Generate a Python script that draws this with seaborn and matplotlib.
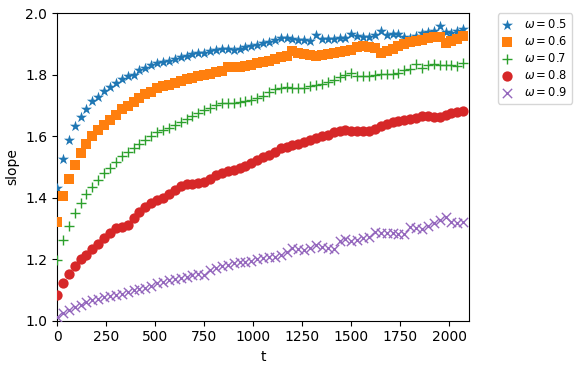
import matplotlib
matplotlib.use("Agg")
import matplotlib.pyplot as plt
import seaborn as sns
import pandas as pd

# sample times (every 30 steps)
t = list(range(0, 2100, 30))

slope_05 = [1.430, 1.526, 1.586, 1.632, 1.662, 1.690, 1.713, 1.728, 1.746, 1.760,
            1.774, 1.787, 1.797, 1.800, 1.814, 1.823, 1.831, 1.839, 1.842, 1.846,
            1.852, 1.857, 1.862, 1.866, 1.870, 1.872, 1.876, 1.880, 1.883, 1.884,
            1.882, 1.885, 1.889, 1.893, 1.898, 1.902, 1.906, 1.914, 1.919, 1.918,
            1.915, 1.913, 1.912, 1.911, 1.929, 1.916, 1.917, 1.916, 1.919, 1.920,
            1.933, 1.925, 1.924, 1.922, 1.928, 1.943, 1.930, 1.932, 1.934, 1.924,
            1.918, 1.925, 1.935, 1.940, 1.942, 1.958, 1.940, 1.937, 1.942, 1.948]

slope_06 = [1.322, 1.406, 1.461, 1.506, 1.545, 1.575, 1.599, 1.620, 1.637, 1.653,
            1.669, 1.688, 1.698, 1.712, 1.723, 1.737, 1.745, 1.757, 1.762, 1.768,
            1.774, 1.780, 1.786, 1.790, 1.795, 1.799, 1.803, 1.808, 1.812, 1.826,
            1.826, 1.824, 1.828, 1.833, 1.838, 1.842, 1.846, 1.852, 1.857, 1.862,
            1.876, 1.872, 1.866, 1.864, 1.862, 1.864, 1.867, 1.870, 1.873, 1.876,
            1.882, 1.889, 1.893, 1.891, 1.887, 1.872, 1.878, 1.885, 1.893, 1.899,
            1.905, 1.910, 1.914, 1.918, 1.922, 1.924, 1.904, 1.910, 1.916, 1.925]

slope_07 = [1.198, 1.262, 1.309, 1.349, 1.384, 1.412, 1.436, 1.458, 1.479, 1.496,
            1.517, 1.534, 1.547, 1.561, 1.574, 1.588, 1.601, 1.613, 1.620, 1.628,
            1.636, 1.645, 1.656, 1.664, 1.674, 1.684, 1.693, 1.700, 1.707, 1.708,
            1.709, 1.712, 1.714, 1.718, 1.724, 1.732, 1.744, 1.752, 1.758, 1.760,
            1.758, 1.756, 1.757, 1.762, 1.767, 1.771, 1.776, 1.784, 1.793, 1.798,
            1.807, 1.797, 1.796, 1.797, 1.798, 1.802, 1.803, 1.803, 1.805, 1.816,
            1.820, 1.834, 1.822, 1.830, 1.836, 1.833, 1.831, 1.830, 1.827, 1.839]

slope_08 = [1.084, 1.122, 1.151, 1.176, 1.200, 1.214, 1.233, 1.250, 1.268, 1.286,
            1.301, 1.306, 1.311, 1.333, 1.353, 1.369, 1.382, 1.392, 1.400, 1.412,
            1.425, 1.438, 1.443, 1.445, 1.446, 1.452, 1.462, 1.472, 1.480, 1.485,
            1.489, 1.496, 1.503, 1.512, 1.523, 1.531, 1.540, 1.550, 1.560, 1.566,
            1.572, 1.576, 1.580, 1.586, 1.594, 1.600, 1.605, 1.612, 1.618, 1.619,
            1.618, 1.617, 1.617, 1.618, 1.623, 1.633, 1.641, 1.647, 1.650, 1.653,
            1.656, 1.660, 1.665, 1.665, 1.663, 1.662, 1.668, 1.674, 1.679, 1.682]

slope_09 = [1.013, 1.024, 1.034, 1.044, 1.052, 1.060, 1.066, 1.071, 1.076, 1.079,
            1.082, 1.087, 1.092, 1.098, 1.102, 1.106, 1.113, 1.121, 1.126, 1.131,
            1.136, 1.140, 1.143, 1.148, 1.152, 1.149, 1.163, 1.170, 1.176, 1.181,
            1.186, 1.190, 1.192, 1.194, 1.200, 1.205, 1.207, 1.208, 1.214, 1.224,
            1.235, 1.233, 1.231, 1.235, 1.246, 1.240, 1.236, 1.232, 1.258, 1.264,
            1.258, 1.262, 1.270, 1.272, 1.289, 1.286, 1.284, 1.284, 1.283, 1.282,
            1.304, 1.300, 1.297, 1.308, 1.318, 1.326, 1.336, 1.322, 1.319, 1.320]

omegas = ["0.5", "0.6", "0.7", "0.8", "0.9"]
series = [slope_05, slope_06, slope_07, slope_08, slope_09]
markers = ["*", "s", "+", "o", "x"]
sizes = [70, 50, 45, 55, 45]
colors = sns.color_palette("tab10", 5)

fig, ax = plt.subplots(figsize=(5.82, 3.68), dpi=100)
fig.subplots_adjust(left=0.098, right=0.806, top=0.964, bottom=0.129)

for om, vals, mk, sz, col in zip(omegas, series, markers, sizes, colors):
    df = pd.DataFrame({"t": t, "slope": vals})
    filled = mk in ("*", "s", "o")
    sns.scatterplot(data=df, x="t", y="slope", ax=ax, marker=mk, color=col,
                    s=sz, linewidth=0 if filled else 1.0,
                    label=r"$\omega=%s$" % om, zorder=3)

ax.set_xlim(0, 2100)
ax.set_ylim(1.0, 2.0)
ax.set_xticks([0, 250, 500, 750, 1000, 1250, 1500, 1750, 2000])
ax.set_yticks([1.0, 1.2, 1.4, 1.6, 1.8, 2.0])
ax.set_xlabel("t")
ax.set_ylabel("slope")
ax.legend(loc="upper left", bbox_to_anchor=(1.07, 1.0), borderaxespad=0,
          fontsize=8.3, handlelength=0.7, handletextpad=1.2, labelspacing=0.35)

fig.savefig("out.png", dpi=100)
